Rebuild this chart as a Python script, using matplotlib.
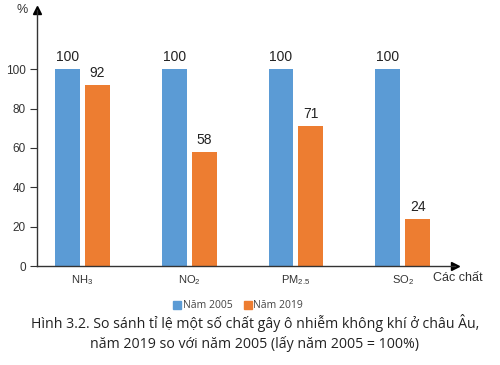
import matplotlib
matplotlib.use("Agg")
import matplotlib.pyplot as plt
import numpy as np

# --------------------------
# DATA
# --------------------------
categories = ["NH$_3$", "NO$_2$", "PM$_{2.5}$", "SO$_2$"]
year_2005 = [100, 100, 100, 100]
year_2019 = [92, 58, 71, 24]
y_ticks = [0, 20, 40, 60, 80, 100]

BLUE = "#5B9BD5"
ORANGE = "#ED7D31"
DARK = "#333333"

plt.rcParams["font.family"] = ["Liberation Sans", "DejaVu Sans"]
plt.rcParams["mathtext.default"] = "regular"

fig = plt.figure(figsize=(5, 3.65), dpi=100)
ax = fig.add_axes([0.074, 0.271, 0.836, 0.701])

x = np.arange(len(categories))
w = 0.234
off = 0.14
b1 = ax.bar(x - off, year_2005, w, color=BLUE)
b2 = ax.bar(x + off, year_2019, w, color=ORANGE)

for bars, vals in [(b1, year_2005), (b2, year_2019)]:
    for rect, v in zip(bars, vals):
        ax.text(rect.get_x() + rect.get_width() / 2, v + 2.5, str(v),
                ha="center", va="bottom", fontsize=10, color="#222222")

ax.set_xlim(-0.426, 3.49)
ax.set_ylim(0, 130)
ax.set_yticks(y_ticks)
ax.set_xticks(x)
ax.set_xticklabels(categories)
ax.tick_params(axis="y", direction="out", length=5, width=0.8, colors=DARK,
               labelsize=8.5, pad=3)
ax.tick_params(axis="x", length=0, labelsize=8, colors=DARK, pad=5)

for s in ["top", "right"]:
    ax.spines[s].set_visible(False)
for s in ["left", "bottom"]:
    ax.spines[s].set_color(DARK)
    ax.spines[s].set_linewidth(1.0)

# axis arrows
ax.plot(0, 1, marker="^", color="black", markersize=6, transform=ax.transAxes, clip_on=False)
ax.plot(1, 0, marker=">", color="black", markersize=6, transform=ax.transAxes, clip_on=False)

fig.text(0.044, 0.972, "%", fontsize=9, color=DARK, ha="center", va="center")
fig.text(0.866, 0.238, "Các chất", fontsize=9, color=DARK, ha="left", va="center")

# legend
fig.patches.append(plt.Rectangle((0.346, 0.153), 0.016, 0.022, color=BLUE, transform=fig.transFigure))
fig.text(0.366, 0.164, "Năm 2005", fontsize=7.5, color="#444444", va="center",
         family=["Open Sans", "DejaVu Sans"])
fig.patches.append(plt.Rectangle((0.488, 0.153), 0.016, 0.022, color=ORANGE, transform=fig.transFigure))
fig.text(0.506, 0.164, "Năm 2019", fontsize=7.5, color="#444444", va="center",
         family=["Open Sans", "DejaVu Sans"])

# caption
fig.text(0.51, 0.115, "Hình 3.2. So sánh tỉ lệ một số chất gây ô nhiễm không khí ở châu Âu,",
         ha="center", va="center", fontsize=10.2, color="#222222",
         family=["Open Sans", "DejaVu Sans"])
fig.text(0.51, 0.058, "năm 2019 so với năm 2005 (lấy năm 2005 = 100%)",
         ha="center", va="center", fontsize=10.2, color="#222222",
         family=["Open Sans", "DejaVu Sans"])

fig.savefig("out.png", dpi=100)
